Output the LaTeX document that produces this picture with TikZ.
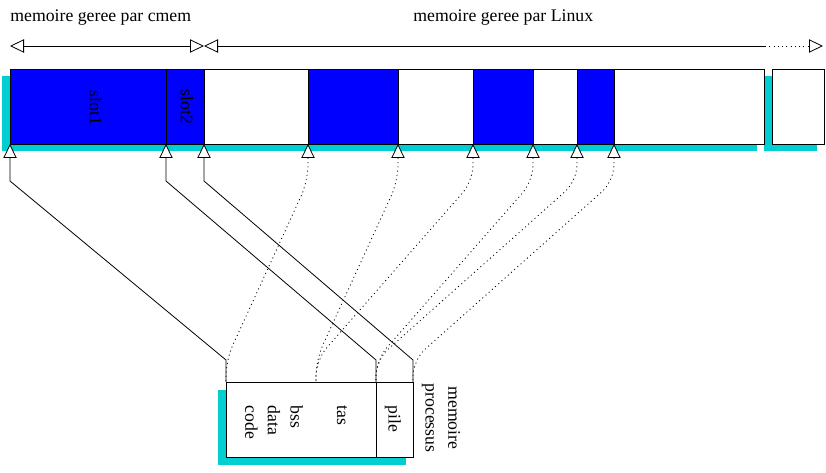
\documentclass[tikz,border=0pt]{standalone}
\usepackage{fontspec}
\setmainfont{Liberation Serif}
\usepackage{tikz}
\usetikzlibrary{arrows.meta,calc}
\definecolor{shadowcyan}{RGB}{0,206,209}

\begin{document}
\begin{tikzpicture}[x=0.75pt,y=-0.75pt,
      line width=0.6pt,
      >={Triangle[length=10.5pt,width=10pt,fill=white]},
      label_txt/.style={
         font=\fontsize{13.3}{17}\selectfont,
         inner sep=0pt},
      label_vert/.style={
         label_txt,
         rotate=-90},
      shadow_cyan/.style={
         fill=shadowcyan},
      block_white/.style={
         draw=black,
         fill=white},
      block_blue/.style={
         draw=black,
         fill=blue},
      arrow_open/.style={
         <-,
         },
      arrow_dots/.style={
         <-,
         dash pattern=on 0.8pt off 2.4pt,
         rounded corners=12pt,
         }
]
      \useasboundingbox (0,0) rectangle (826,473);

      %titles
      \node[label_txt,anchor=west] (cmem) at (10,18) {memoire geree par cmem};
      \node[label_txt,anchor=west] (linux) at (413,18) {memoire geree par Linux};

      \coordinate (r0) at (10,46);
      \coordinate (r1) at (204,46);
      \coordinate (r2) at (765,46);
      \coordinate (r3) at (823,46);
      \draw[<->] (r0) -- (r1);
      \draw[<-] (r1) -- (r2);
      \draw[->,dash pattern=on 0.8pt off 2.4pt] (r2) -- (r3);

      %physical memory
      \fill[shadow_cyan] (2,76) rectangle (757,151);
      \fill[shadow_cyan] (764,76) rectangle (817,151);
      \draw[block_white] (10,69) rectangle (764,144);
      \draw[block_white] (772,69) rectangle (824,144);
      \foreach \a/\b in {10/166,166/204,308/398,473/533,577/614}
        \draw[block_blue] (\a,69) rectangle (\b,144);

      \node[label_vert] (slot1) at (96,108) {slot1};
      \node[label_vert] (slot2) at (187,107) {slot2};

      %process memory
      \fill[shadow_cyan] (218,390) rectangle (406,465);
      \draw[block_white] (226,382) rectangle (413,457);
      \draw (376,382) -- (376,457);

      \node[label_vert,align=left,anchor=west] (code) at (274,405) {bss\\data\\code};
      \node[label_vert,anchor=west] (tas) at (342,405) {tas};
      \node[label_vert,anchor=west] (pile) at (393,405) {pile};
      \node[label_vert,align=center] (proc) at (441,418) {memoire\\processus};

    \foreach \n/\x in {m0/10,m1/166,m2/204,l1/308,l2/398,l3/473,l4/533,l5/577,l6/614}
      \coordinate (\n) at (\x,144);
    \foreach \n/\x in {p0/226,p1/316,p2/376,p3/413}
      \coordinate (\n) at (\x,382);

    \foreach \i/\j in {m0/p0, m1/p2, m2/p3}% slot start/process start
      \draw [arrow_open] (\i) -- ++(0,37) -- ($(\j)+(0,-22)$) -- (\j);

    \foreach \i/\j in {l1/p0, l2/p1, l3/p1, l4/p2, l5/p2, l6/p3}
      \draw [arrow_dots] (\i) -- ++(0,37) -- ($(\j)+(0,-22)$) -- (\j);
\end{tikzpicture}
\end{document}
